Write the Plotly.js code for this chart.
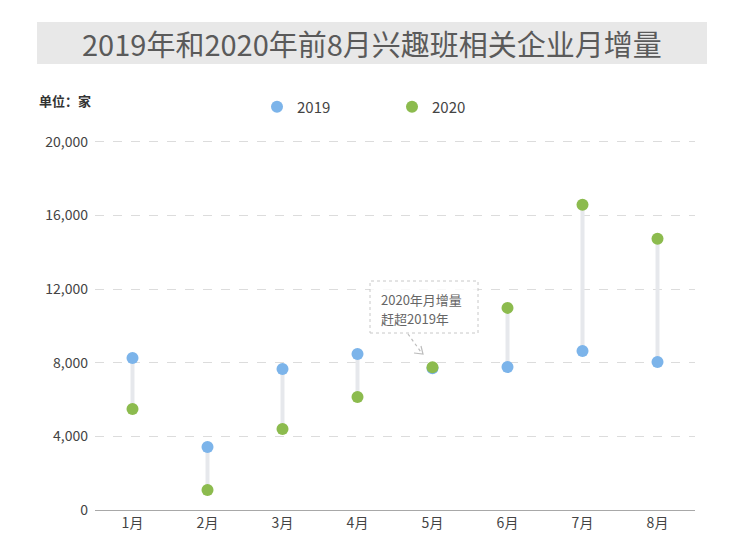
<!DOCTYPE html>
<html>
<head>
<meta charset="utf-8">
<script src="https://cdn.plot.ly/plotly-3.0.1.min.js"></script>
<style>
  html, body { margin: 0; padding: 0; background: #ffffff; }
  #chart { width: 750px; height: 559px; }
</style>
</head>
<body>
<div id="chart"></div>
<script>
// 月份与两年的月增量（单位：家）
const months = ['1月', '2月', '3月', '4月', '5月', '6月', '7月', '8月'];
const v2019 = [8260, 3420, 7660, 8480, 7700, 7770, 8640, 8040];
const v2020 = [5490, 1090, 4400, 6140, 7750, 10980, 16580, 14730];
const yTicks = [0, 4000, 8000, 12000, 16000, 20000];

const FONT = '"Noto Sans CJK SC", "Noto Sans", sans-serif';

// 连接线：每个月一段，用 null 断开
const linkX = [];
const linkY = [];
months.forEach((m, i) => {
    linkX.push(m, m, null);
    linkY.push(v2019[i], v2020[i], null);
});

const traceLinks = {
    x: linkX,
    y: linkY,
    mode: 'lines',
    type: 'scatter',
    line: { color: '#e6e8ec', width: 4 },
    hoverinfo: 'skip',
    showlegend: false,
};

const trace2019 = {
    x: months,
    y: v2019,
    mode: 'markers',
    type: 'scatter',
    name: '2019',
    marker: { color: '#7cb4ea', size: 12 },
};

const trace2020 = {
    x: months,
    y: v2020,
    mode: 'markers',
    type: 'scatter',
    name: '2020',
    marker: { color: '#8cbb4e', size: 12 },
};

// 像素 -> paper 坐标（绘图区 x: 95..695, y: 510..140）
const px = x => (x - 95) / 600;
const py = y => (510 - y) / 370;

const layout = {
    width: 750,
    height: 559,
    margin: { t: 140, r: 55, l: 95, b: 49 },
    paper_bgcolor: '#ffffff',
    plot_bgcolor: '#ffffff',
    font: { family: FONT, color: '#444444', size: 14 },
    showlegend: true,
    legend: {
        orientation: 'h',
        x: px(257), xanchor: 'left',
        y: py(107), yanchor: 'middle',
        font: { size: 15, color: '#444444' },
        entrywidth: 90,
        entrywidthmode: 'pixels',
        bgcolor: 'rgba(0,0,0,0)',
    },
    xaxis: {
        type: 'category',
        range: [-0.5, 7.5],
        showgrid: false,
        showline: true,
        linecolor: '#a8a8a8',
        linewidth: 1,
        ticks: '',
        tickfont: { size: 14, color: '#444444' },
        fixedrange: true,
    },
    yaxis: {
        range: [0, 20100],
        tickvals: yTicks,
        tickformat: ',',
        showgrid: true,
        gridcolor: '#dcdcdc',
        griddash: 'dash',
        zeroline: false,
        showline: false,
        ticks: '',
        ticklabelstandoff: 6,
        tickfont: { size: 14, color: '#444444' },
        fixedrange: true,
    },
    shapes: [
        // 标题灰色底框
        {
            type: 'rect', xref: 'paper', yref: 'paper',
            x0: px(37), x1: px(707), y0: py(64), y1: py(22),
            fillcolor: '#e8e8e8', line: { width: 0 }, layer: 'below',
        },
        // 注释虚线框
        {
            type: 'rect', xref: 'paper', yref: 'paper',
            x0: px(370), x1: px(478), y0: py(333), y1: py(281),
            fillcolor: 'rgba(255,255,255,0.8)',
            line: { color: '#c8c8c8', width: 1, dash: 'dot' },
        },
        // 虚线箭头
        {
            type: 'line', xref: 'paper', yref: 'paper',
            x0: px(408), y0: py(334), x1: px(421), y1: py(352),
            line: { color: '#bdbdbd', width: 1.2, dash: 'dot' },
        },
        {
            type: 'path', xref: 'paper', yref: 'paper',
            path: `M ${px(414)} ${py(353)} L ${px(423)} ${py(354)} L ${px(421)} ${py(346)}`,
            line: { color: '#bdbdbd', width: 1.2 },
        },
    ],
    annotations: [
        {
            text: '2019年和2020年前8月兴趣班相关企业月增量',
            xref: 'paper', yref: 'paper',
            x: px(372), y: py(43), xanchor: 'center', yanchor: 'middle',
            showarrow: false,
            font: { size: 29, color: '#5a5a5a', family: FONT },
        },
        {
            text: '<b>单位：家</b>',
            xref: 'paper', yref: 'paper',
            x: px(37), y: py(100), xanchor: 'left', yanchor: 'middle',
            showarrow: false,
            font: { size: 13, color: '#333333', family: FONT },
        },
        {
            text: '2020年月增量',
            xref: 'paper', yref: 'paper',
            x: px(379), y: py(299), xanchor: 'left', yanchor: 'middle',
            showarrow: false,
            font: { size: 13, color: '#666666', family: FONT },
        },
        {
            text: '赶超2019年',
            xref: 'paper', yref: 'paper',
            x: px(379), y: py(318), xanchor: 'left', yanchor: 'middle',
            showarrow: false,
            font: { size: 13, color: '#666666', family: FONT },
        },
    ],
};

Plotly.newPlot('chart', [traceLinks, trace2019, trace2020], layout, {
    displayModeBar: false,
    staticPlot: true,
});
</script>
</body>
</html>
